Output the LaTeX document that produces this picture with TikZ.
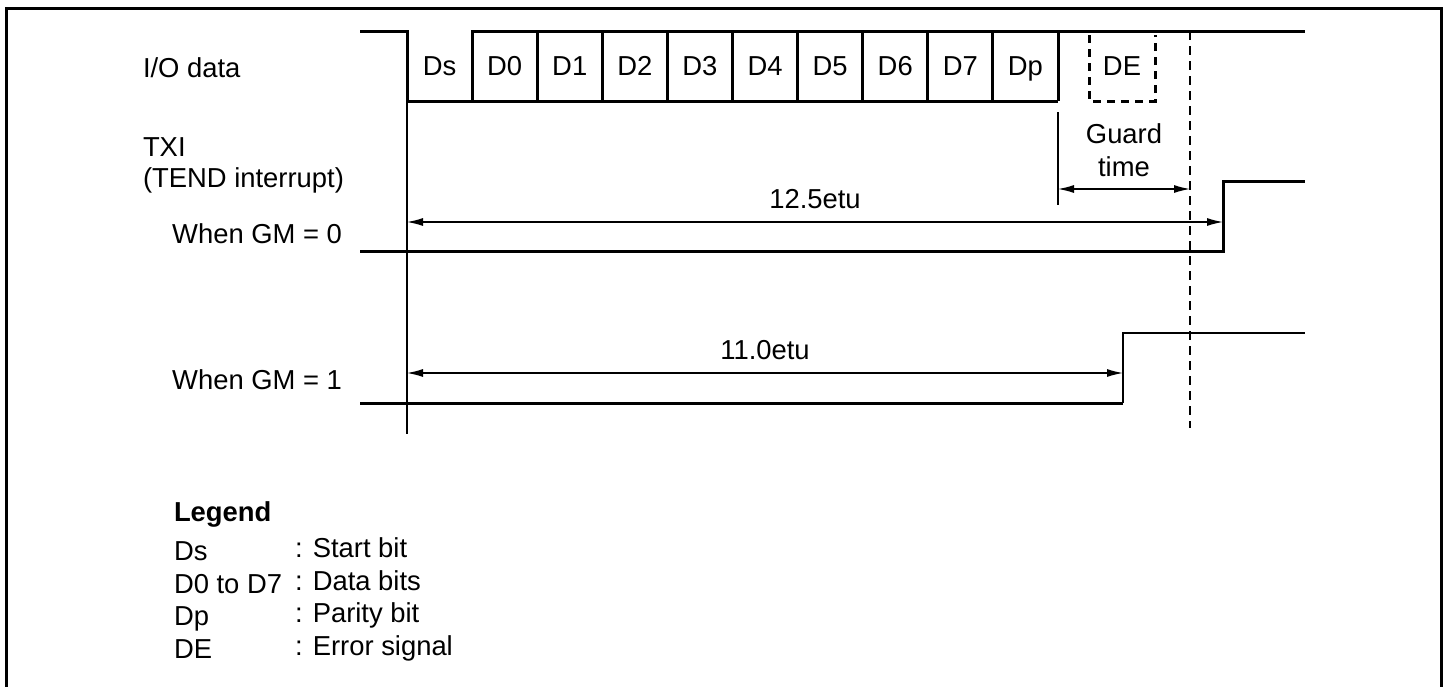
\documentclass[tikz,border=0pt]{standalone}
\usepackage{fontspec}
\setmainfont{Liberation Sans}
\usetikzlibrary{arrows.meta}
\begin{document}
\begin{tikzpicture}[x=1pt,y=-1pt,
  every node/.style={inner sep=0pt,outer sep=0pt,font=\fontsize{27.4}{33}\selectfont},
  sig/.style={line width=3pt,line join=miter},
  thinline/.style={line width=1.3pt},
  dimarrow/.style={line width=1.3pt,{Latex[length=16pt,width=8pt]}-{Latex[length=16pt,width=8pt]}},
  guardline/.style={line width=1.5pt,dash pattern=on 9pt off 6pt},
  debox/.style={line width=3pt,dash pattern=on 8pt off 6pt},
  frameline/.style={line width=3pt}]
\useasboundingbox (0,0) rectangle (1449,686);
% frame (open at the bottom)
\draw[frameline] (6,690) -- (6,8.5) -- (1441.5,8.5) -- (1441.5,690);

% bit boundaries
\foreach \i in {0,...,10} {
  \coordinate (bt\i) at ({407+65.1*\i},31);
  \coordinate (bb\i) at ({407+65.1*\i},101);
}
\coordinate (ioL) at (360,31);
\coordinate (ioR) at (1305,31);

% I/O data waveform
\draw[sig] (ioL) -- (bt0) -- (bb0) -- (bb10);
\draw[sig] (bb1) -- (bt1) -- (ioR);
\foreach \i in {2,...,10} { \draw[sig] (bt\i) -- (bb\i); }

% bit labels
\foreach \n [count=\k from 0] in {Ds,D0,D1,D2,D3,D4,D5,D6,D7,Dp} {
  \node[anchor=base] (lab\k) at ({407+65.1*\k+32.55},75) {\n};
}

% DE (dashed box)
\coordinate (deTL) at (1089,35);
\coordinate (deBL) at (1089,101);
\coordinate (deBR) at (1155,101);
\coordinate (deTR) at (1155,35);
\draw[debox] (deTL) -- (deBL) -- (deBR) -- (deTR);
\node[anchor=base] (de) at (1122,75) {DE};

% reference lines
\coordinate (startBot) at (407,434);
\draw[thinline] (bb0) -- (startBot);
\coordinate (gA) at (1058,112);
\coordinate (gB) at (1058,205);
\draw[thinline] (gA) -- (gB);
\coordinate (dTop) at (1190,31);
\coordinate (dBot) at (1190,428);
\draw[guardline] (dTop) -- (dBot);

% guard time
\coordinate (gL) at (1058,189);
\coordinate (gR) at (1190,189);
\draw[dimarrow] (gL) -- (gR);
\node[anchor=base] (guard) at (1124,143) {Guard};
\node[anchor=base] (gtime) at (1124,176) {time};

% GM = 0
\coordinate (g0L) at (360,251);
\coordinate (g0a) at (1223,251);
\coordinate (g0b) at (1223,181);
\coordinate (g0R) at (1305,181);
\draw[sig] (g0L) -- (g0a) -- (g0b) -- (g0R);
\coordinate (a0L) at (407,222);
\coordinate (a0R) at (1223,222);
\draw[dimarrow] (a0L) -- (a0R);
\node[anchor=base] (t125) at (815,208) {12.5etu};

% GM = 1
\coordinate (g1L) at (360,403);
\coordinate (g1a) at (1123,403);
\coordinate (g1b) at (1123,333);
\coordinate (g1R) at (1305,333);
\draw[sig] (g1L) -- (g1a);
\draw[thinline] (g1a) -- (g1b) -- (g1R);
\coordinate (a1L) at (407,373);
\coordinate (a1R) at (1123,373);
\draw[dimarrow] (a1L) -- (a1R);
\node[anchor=base] (t110) at (765,359) {11.0etu};

% left labels
\node[anchor=base west] (io) at (143,77) {I/O data};
\node[anchor=base west] (txi) at (143,156) {TXI};
\node[anchor=base west] (tend) at (143,187) {(TEND interrupt)};
\node[anchor=base east] (gm0) at (342,243) {When GM = 0};
\node[anchor=base east] (gm1) at (342,389) {When GM = 1};

% legend
\node[anchor=base west,font=\fontsize{27.4}{33}\selectfont\bfseries] (leg) at (174,521) {Legend};
\node[anchor=base west] (l1) at (174,560) {Ds};
\node[anchor=base west] (l2) at (174,593) {D0 to D7};
\node[anchor=base west] (l3) at (174,625) {Dp};
\node[anchor=base west] (l4) at (174,658) {DE};
\node[anchor=base west] (r1) at (295,557) {: Start bit};
\node[anchor=base west] (r2) at (295,590) {: Data bits};
\node[anchor=base west] (r3) at (295,622) {: Parity bit};
\node[anchor=base west] (r4) at (295,655) {: Error signal};
\end{tikzpicture}
\end{document}
